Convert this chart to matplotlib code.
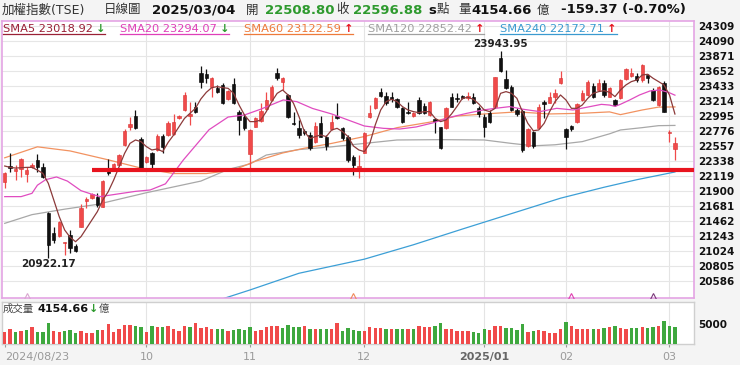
import numpy as np
import matplotlib.pyplot as plt
from matplotlib.lines import Line2D
from matplotlib.transforms import IdentityTransform

plt.rcParams['font.family'] = ['DejaVu Sans', 'Noto Sans CJK TC']

# ---- daily candles 2024/08/23 .. 2025/03/04 (index = trading day) ----
opens = [22032, 22260, 22187, 22212, 22139, 22241, 22348, 22251, 21579, 21277,
         21238, 21131, 21253, 21092, 21375, 21754, 21788, 21813, 21667, 22236,
         22202, 22275, 22567, 22835, 22990, 22650, 22324, 22455, 22494, 22698,
         22713, 22723, 22956, 23078, 22990, 23117, 23613, 23599, 23419, 23404,
         23443, 23239, 23453, 23054, 22981, 22431, 22835, 22917, 23093, 23224,
         23613, 23482, 23297, 22893, 22820, 22771, 22713, 22616, 22883, 22689,
         22796, 22990, 22810, 22679, 22387, 22202, 22455, 22971, 23102, 23336,
         23282, 23263, 23234, 23102, 23054, 22990, 23224, 23136, 23005, 22942,
         22825, 22810, 23263, 23248, 23282, 23248, 23273, 23102, 22981, 23039,
         23127, 23832, 23526, 23419, 23078, 23068, 22552, 22762, 22810, 23200,
         23185, 23273, 23467, 22796, 22844, 22908, 23224, 23297, 23428, 23370,
         23467, 23273, 23224, 23248, 23526, 23579, 23574, 23516, 23589, 23370,
         23151, 23467, 22737, 22508.80]
highs = [22178, 22445, 22275, 22377, 22251, 22299, 22431, 22299, 21594, 21375,
         21462, 21156, 21326, 21117, 21705, 21803, 21871, 21861, 22056, 22358,
         22309, 22431, 22796, 22971, 23078, 22679, 22406, 22470, 22723, 22723,
         22917, 23015, 23005, 23346, 23200, 23200, 23725, 23677, 23565, 23443,
         23467, 23375, 23550, 23078, 23015, 22800, 22970, 23175, 23346, 23443,
         23696, 23565, 23307, 23054, 22932, 22800, 22762, 22908, 22990, 22713,
         23005, 23185, 22835, 22713, 22421, 22421, 22762, 23151, 23273, 23394,
         23346, 23346, 23248, 23127, 23200, 23054, 23263, 23180, 23214, 22951,
         22835, 23127, 23331, 23321, 23297, 23346, 23321, 23136, 23020, 23078,
         23565, 23943.95, 23662, 23443, 23102, 23088, 22810, 22776, 23166, 23224,
         23346, 23380, 23652, 22810, 22859, 23185, 23370, 23516, 23467, 23526,
         23516, 23420, 23240, 23530, 23686, 23686, 23613, 23745, 23599, 23394,
         23433, 23501, 22786, 22689]
lows = [21944, 22178, 22056, 22105, 22032, 22226, 22178, 22080, 20922.17, 21131,
        21229, 20960, 20985, 21010, 21365, 21642, 21779, 21667, 21657, 22129,
        22192, 22260, 22557, 22786, 22800, 22202, 22309, 22202, 22480, 22445,
        22703, 22713, 22947, 23068, 22859, 23029, 23394, 23467, 23273, 23321,
        23161, 23229, 23161, 22713, 22786, 22226, 22825, 22908, 23078, 23209,
        23516, 23370, 22966, 22859, 22664, 22713, 22494, 22591, 22679, 22494,
        22786, 22942, 22640, 22324, 22129, 22085, 22445, 22956, 23093, 23263,
        23151, 23200, 23102, 22883, 23019, 22981, 23019, 23020, 22990, 22737,
        22504, 22796, 23117, 23200, 23234, 23224, 23166, 22981, 22689, 22893,
        23117, 23638, 23380, 23068, 22990, 22470, 22542, 22518, 22796, 22956,
        23175, 23175, 23458, 22504, 22776, 22893, 23214, 23287, 23248, 23360,
        23273, 23263, 23141, 23240, 23516, 23565, 23490, 23490, 23467, 23209,
        23141, 23044, 22616, 22348]
closes = [22153, 22226, 22212, 22367, 22202, 22270, 22241, 22095, 21107, 21180,
          21438, 21156, 21058, 21024, 21652, 21774, 21852, 21691, 22041, 22153,
          22290, 22421, 22776, 22869, 22810, 22226, 22387, 22290, 22698, 22543,
          22883, 22908, 22990, 23297, 23015, 23054, 23492, 23540, 23540, 23336,
          23175, 23355, 23175, 22932, 22810, 22786, 22956, 23063, 23224, 23419,
          23550, 23540, 22981, 22869, 22713, 22737, 22518, 22844, 22689, 22552,
          22908, 22956, 22664, 22348, 22275, 22260, 22737, 23029, 23248, 23282,
          23175, 23234, 23127, 22908, 23039, 23029, 23029, 23029, 23200, 22922,
          22518, 23102, 23127, 23234, 23248, 23282, 23175, 23020, 22835, 22908,
          23555, 23652, 23394, 23078, 23020, 22494, 22796, 22552, 23120, 23161,
          23273, 23321, 23540, 22689, 22796, 23166, 23321, 23482, 23263, 23467,
          23297, 23404, 23151, 23516, 23672, 23613, 23516, 23735, 23540, 23224,
          23419, 23054, 22756.25, 22596.88]
# volume in 億
volumes = [3120, 3690, 3120, 3360, 3530, 4350, 3120, 3120, 5170, 3360,
           3120, 3280, 3530, 2710, 3360, 2870, 2710, 3530, 3530, 5000,
           3120, 3690, 4760, 4760, 4510, 4350, 3120, 4510, 4180, 4180,
           4510, 3690, 3360, 4510, 4350, 5170, 3940, 4180, 3850, 3690,
           3850, 3200, 3530, 3690, 3530, 4350, 3360, 3530, 4180, 4510,
           4510, 3940, 4760, 4180, 4180, 4510, 3690, 3690, 3850, 3690,
           3690, 5170, 3360, 4020, 3530, 3360, 3360, 4180, 4020, 4020,
           3850, 3850, 3690, 3690, 3690, 3690, 4510, 4350, 4350, 4510,
           5170, 3690, 3690, 3200, 3200, 3200, 3030, 2870, 3850, 3530,
           4510, 4510, 3940, 3940, 3530, 5000, 3030, 3200, 3530, 3360,
           2870, 2870, 3690, 5580, 4510, 3690, 3690, 3690, 3690, 3690,
           3940, 4180, 4510, 3940, 3690, 4020, 4020, 4180, 3940, 4180,
           4510, 5740, 4510, 4154.66]

# moving averages
sma5 = [22260, 22240, 22230, 22235, 22240, 22241, 22200, 22153, 22007, 21764,
        21521, 21326, 21220, 21155, 21229, 21350, 21472, 21594, 21764, 21886,
        22056, 22251, 22445, 22591, 22640, 22616, 22543, 22494, 22509, 22470,
        22606, 22713, 22835, 22956, 23029, 23102, 23239, 23336, 23404, 23419,
        23404, 23394, 23321, 23151, 23005, 22908, 22908, 22932, 23054, 23200,
        23321, 23370, 23297, 23175, 22981, 22762, 22660, 22690, 22713, 22689,
        22786, 22810, 22762, 22689, 22552, 22494, 22470, 22591, 22859, 23078,
        23200, 23234, 23200, 23127, 23078, 23054, 23039, 23054, 23054, 22956,
        22908, 22932, 23020, 23130, 23248, 23263, 23234, 23166, 23078, 23054,
        23102, 23321, 23346, 23321, 23248, 23054, 22883, 22776, 22786, 22883,
        23054, 23200, 23297, 23224, 23102, 23102, 23151, 23248, 23321, 23346,
        23360, 23336, 23273, 23370, 23443, 23492, 23516, 23589, 23599, 23540,
        23492, 23443, 23297, 23018.92]
sma20_x = [0, 3, 5, 6, 7.5, 9.5, 11.5, 14, 16.3, 17.5, 20.6, 24, 26.7, 29.5, 32.8,
           37.5, 41, 44, 47, 51.1, 53.6, 56.5, 60, 63, 66, 69.5, 72.5, 75.5, 78.6,
           81.7, 84.8, 87.8, 90, 92.7, 95.2, 98.2, 101.3, 104.3, 107.4, 109.5, 111,
           112, 113, 114.7, 116.5, 118.4, 120.2, 121.8, 123]
sma20_y = [21813, 21813, 21861, 21980, 22060, 22100, 22040, 21900, 21840, 21813,
           21850, 21890, 21910, 22000, 22350, 22790, 22975, 23005, 23090, 23224,
           23200, 23100, 23020, 22932, 22844, 22810, 22800, 22830, 22890, 22971,
           23029, 23078, 23102, 23127, 23088, 23054, 23102, 23078, 23127, 23160,
           23150, 23130, 23161, 23224, 23297, 23355, 23370, 23336, 23294.07]
sma60_x = [0, 6, 12, 19, 25, 31, 37, 42, 46, 51, 55, 60, 66, 72, 78, 83, 88, 94,
           100, 106, 111, 113, 117, 120, 123]
sma60_y = [22380, 22540, 22480, 22350, 22230, 22150, 22150, 22200, 22330, 22450,
           22520, 22590, 22690, 22820, 22900, 22990, 23020, 23050, 23020, 23030,
           23050, 23010, 23078, 23120, 23122.59]
sma120_x = [0, 5, 11, 17, 26, 36, 41, 45, 48, 54, 60, 66, 72, 80, 88, 93, 97, 101,
            106, 111, 113, 117, 120, 123]
sma120_y = [21423, 21550, 21630, 21700, 21870, 22040, 22210, 22290, 22420, 22500,
            22540, 22590, 22640, 22645, 22640, 22590, 22555, 22570, 22616, 22730,
            22786, 22820, 22849, 22852.42]
sma240_x = [38, 45, 54, 66, 75, 84, 92, 102, 110, 116, 123]
sma240_y = [20270, 20450, 20694, 20900, 21110, 21340, 21540, 21790, 21950, 22060,
            22172.71]

support_level = 22195
support_start = 16

price_ticks = [24309, 24090, 23871, 23652, 23433, 23214, 22995, 22776, 22557,
               22338, 22119, 21900, 21681, 21462, 21243, 21024, 20805, 20586]
month_idx = [0, 26, 45, 66, 88, 103, 122]
month_labels = ['2024/08/23', '10', '11', '12', '2025/01', '02', '03']
event_idx = [4, 64, 104, 119]
event_colors = ['#d9a6cf', '#f08a5a', '#e040b0', '#7a3a7a']

# ---------------------------------------------------------------
W, H = 740, 365
def fx(px):
    return px / W
def fy(py):
    return 1 - py / H

o = np.array(opens); h = np.array(highs); l = np.array(lows); c = np.array(closes)
n = len(c)
idx = np.arange(n)
up = c >= o
cand_col = np.where(up, '#f04a4a', '#111111')
cand_edge = np.where(up, '#d83030', '#000000')
prev = np.r_[c[0] - 1, c[:-1]]
vol_col = np.where(c >= prev, '#f04a4a', '#3ea83e')

fig = plt.figure(figsize=(7.4, 3.65), dpi=100, facecolor='#f4f4f4')
ax = fig.add_axes([fx(2), fy(298), fx(692), 277 / H])
ax2 = fig.add_axes([fx(2), fy(344), fx(692), 42 / H])

# main panel
ax.set_facecolor('white')
ax.set_xlim(-0.5, 126.5)
ax.set_ylim(20333, 24377)
for m in month_idx[1:]:
    ax.axvline(m, color='#e4e4e4', lw=0.8, zorder=0)
ax.set_yticks(price_ticks)
ax.yaxis.tick_right()
ax.tick_params(axis='y', length=0, pad=3, labelsize=7.5, labelcolor='#111')
for t in ax.get_yticklabels():
    t.set_fontweight('bold')
ax.set_xticks([])
ax.grid(axis='y', color='#e6e6e6', lw=0.8, zorder=0)
for s in ax.spines.values():
    s.set_color('#e4a4e4')
    s.set_linewidth(1.2)

# candles
ax.vlines(idx, l, h, colors=cand_col, lw=0.9, zorder=3)
ax.bar(idx, np.maximum(np.abs(c - o), 12), bottom=np.minimum(o, c), width=0.62,
       color=cand_col, edgecolor=cand_edge, lw=0.4, zorder=4)

# moving averages
ax.plot(sma240_x, sma240_y, color='#3c9fd6', lw=0.9, zorder=2)
ax.plot(sma120_x, sma120_y, color='#a8a8a8', lw=0.9, zorder=2)
ax.plot(sma60_x, sma60_y, color='#f29260', lw=0.9, zorder=2)
ax.plot(sma20_x, sma20_y, color='#e04cc0', lw=0.9, zorder=5)
ax.plot(idx, sma5, color='#8c3a3a', lw=0.9, zorder=5)

# support line
ax.hlines(support_level, support_start, 126.5, color='#e8141e', lw=3, zorder=6)

# small event marks at the bottom
for i, col in zip(event_idx, event_colors):
    ax.plot(i, 20362, ls='none', marker='^', ms=4, mfc='none', mec=col, mew=0.8, zorder=6)

hi = int(np.argmax(h))
lo = int(np.argmin(l))
ax.text(hi, h[hi] + 18, f'{h[hi]:.2f}', ha='center', va='bottom', fontsize=7.5,
        fontweight='bold', color='#222')
ax.text(lo, l[lo] - 20, f'{l[lo]:.2f}', ha='center', va='top', fontsize=7.5,
        fontweight='bold', color='#222')

# volume panel
ax2.set_facecolor('white')
ax2.set_xlim(-0.5, 126.5)
ax2.set_ylim(0, 10500)
for m in month_idx[1:]:
    ax2.axvline(m, color='#e4e4e4', lw=0.8, zorder=0)
ax2.bar(idx, volumes, width=0.62, color=vol_col, zorder=3)
ax2.set_yticks([5000])
ax2.yaxis.tick_right()
ax2.tick_params(axis='y', length=0, pad=3, labelsize=7.5, labelcolor='#111')
for t in ax2.get_yticklabels():
    t.set_fontweight('bold')
ax2.set_xticks(month_idx)
ax2.set_xticklabels(month_labels)
ax2.tick_params(axis='x', length=2.5, color='#999', pad=3, labelsize=8, labelcolor='#9a9a9a')
xl = ax2.get_xticklabels()
xl[0].set_horizontalalignment('left')
xl[4].set_fontweight('bold')
xl[4].set_color('#666')
for s in ax2.spines.values():
    s.set_color('#cfcfcf')
    s.set_linewidth(1.0)

# header
hy = fy(10)
fig.text(fx(2), hy, '加權指數(TSE)', fontsize=9, color='#333', va='center')
fig.text(fx(104), hy, '日線圖', fontsize=9, color='#333', va='center')
fig.text(fx(152), hy, '2025/03/04', fontsize=9.5, fontweight='bold', color='#111', va='center')
fig.text(fx(246), hy, '開', fontsize=9, color='#333', va='center')
fig.text(fx(265), hy, '22508.80', fontsize=9.5, fontweight='bold', color='#2e9a2e', va='center')
fig.text(fx(336), hy, '收', fontsize=9, color='#333', va='center')
fig.text(fx(353), hy, '22596.88', fontsize=9.5, fontweight='bold', color='#2e9a2e', va='center')
fig.text(fx(428), hy, 's', fontsize=9.5, fontweight='bold', color='#111', va='center')
fig.text(fx(437), hy, '點', fontsize=9, color='#333', va='center')
fig.text(fx(458), hy, '量', fontsize=9, color='#333', va='center')
fig.text(fx(471), hy, '4154.66', fontsize=9.5, fontweight='bold', color='#111', va='center')
fig.text(fx(537), hy, '億', fontsize=9, color='#333', va='center')
fig.text(fx(561), hy, '-159.37 (-0.70%)', fontsize=9.5, fontweight='bold', color='#111', va='center')

# legend row with values and arrows, underlined
legend_items = [('SMA5 23018.92', '#9a2036', '↓', '#2e9a2e', 3),
                ('SMA20 23294.07', '#df3fb8', '↓', '#2e9a2e', 120),
                ('SMA60 23122.59', '#ee7a3a', '↑', '#e8141e', 244),
                ('SMA120 22852.42', '#a0a0a0', '↑', '#e8141e', 368),
                ('SMA240 22172.71', '#3a9ad0', '↑', '#e8141e', 500)]
ly = fy(28.5)
fig.canvas.draw()
r = fig.canvas.get_renderer()
for label, col, arr, acol, px in legend_items:
    t = fig.text(fx(px), ly, label, fontsize=8.2, color=col, va='center')
    bb = t.get_window_extent(r)
    a = fig.text(bb.x1 / W + fx(3), ly, arr, fontsize=8.2, fontweight='bold', color=acol, va='center')
    ab = a.get_window_extent(r)
    fig.add_artist(Line2D([bb.x0, ab.x1], [bb.y0 - 0.5, bb.y0 - 0.5], transform=IdentityTransform(),
                          color=col, lw=0.9))

# volume header
vy = fy(309)
fig.text(fx(3), vy, '成交量', fontsize=7.5, color='#444', va='center')
t2 = fig.text(fx(37), vy, '4154.66', fontsize=8, fontweight='bold', color='#111', va='center')
b2 = t2.get_window_extent(r)
t3 = fig.text(b2.x1 / W + fx(1), vy, '↓', fontsize=8, fontweight='bold', color='#2e9a2e', va='center')
b3 = t3.get_window_extent(r)
fig.text(b3.x1 / W, vy, '億', fontsize=7.5, color='#444', va='center')

fig.savefig('out.png', dpi=100, facecolor=fig.get_facecolor())
